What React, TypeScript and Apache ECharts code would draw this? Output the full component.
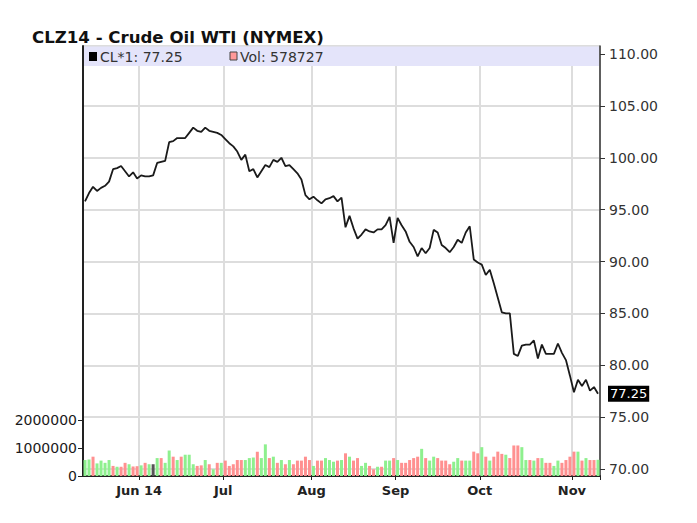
import React, { useEffect, useRef } from 'react';
import * as echarts from 'echarts';

// ---- categories: trading days (weekends and exchange holidays skipped) ----
const FIRST_DAY = '2014-05-12';
const LAST_DAY = '2014-11-11';
const HOLIDAYS = ['2014-05-26', '2014-07-04', '2014-09-01'];

function tradingDays(): string[] {
  const out: string[] = [];
  const d = new Date(FIRST_DAY + 'T00:00:00Z');
  const end = new Date(LAST_DAY + 'T00:00:00Z');
  while (d <= end) {
    const wd = d.getUTCDay();
    const s = d.toISOString().slice(0, 10);
    if (wd !== 0 && wd !== 6 && !HOLIDAYS.includes(s)) out.push(s);
    d.setUTCDate(d.getUTCDate() + 1);
  }
  return out;
}
const dates = tradingDays();

const MONTH_LABELS: Record<string, string> = {
  '06': 'Jun 14', '07': 'Jul', '08': 'Aug', '09': 'Sep', '10': 'Oct', '11': 'Nov',
};

// ---- series values ----
const closePrices = [
  95.8, 96.6, 97.2, 96.8, 97.1, 97.3, 97.7, 98.9, 99.0, 99.2,
  98.7, 98.2, 98.6, 98.0, 98.3, 98.2, 98.2, 98.3, 99.5, 99.6,
  99.7, 101.5, 101.6, 101.9, 101.9, 101.9, 102.4, 102.9, 102.6, 102.5,
  102.9, 102.6, 102.5, 102.4, 102.2, 101.8, 101.4, 101.1, 100.6, 99.8,
  100.3, 98.7, 98.9, 98.1, 98.7, 99.3, 99.1, 99.8, 99.6, 100.0,
  99.2, 99.3, 98.9, 98.5, 97.9, 96.4, 96.0, 96.25, 95.9, 95.6,
  96.0, 96.1, 96.3, 95.8, 96.15, 93.3, 94.4, 93.2, 92.2, 92.6,
  93.1, 92.9, 92.8, 93.1, 93.1, 93.5, 94.3, 91.8, 94.2, 93.5,
  92.9, 91.9, 91.4, 90.5, 91.3, 90.8, 91.3, 93.05, 92.8, 91.6,
  91.3, 90.9, 91.4, 92.1, 91.8, 92.8, 93.4, 90.2, 89.9, 89.7,
  88.7, 89.2, 87.9, 86.5, 85.1, 85.0, 85.0, 81.1, 80.9, 81.9,
  82.0, 82.0, 82.4, 80.65, 82.0, 81.1, 81.1, 81.1, 82.1, 81.2,
  80.5, 79.0, 77.4, 78.6, 78.0, 78.6, 77.55, 77.9, 77.25,
];

const volumes = [
  570000, 590000, 690000, 450000, 550000, 470000, 570000, 360000, 330000, 330000,
  470000, 420000, 340000, 350000, 380000, 470000, 420000, 420000, 640000, 640000,
  470000, 910000, 690000, 570000, 690000, 760000, 760000, 420000, 360000, 380000,
  570000, 420000, 240000, 470000, 470000, 550000, 360000, 420000, 570000, 570000,
  570000, 640000, 660000, 870000, 640000, 1130000, 640000, 690000, 470000, 570000,
  420000, 570000, 420000, 550000, 550000, 690000, 570000, 360000, 550000, 550000,
  640000, 570000, 510000, 550000, 570000, 810000, 690000, 550000, 640000, 360000,
  470000, 360000, 240000, 330000, 330000, 550000, 550000, 640000, 570000, 470000,
  470000, 570000, 640000, 690000, 970000, 640000, 550000, 690000, 640000, 550000,
  550000, 420000, 510000, 640000, 550000, 550000, 550000, 870000, 810000, 1030000,
  690000, 550000, 690000, 870000, 790000, 760000, 640000, 1090000, 1090000, 1030000,
  570000, 570000, 550000, 640000, 640000, 470000, 470000, 360000, 550000, 470000,
  570000, 690000, 870000, 870000, 550000, 640000, 570000, 570000, 578727,
];

// g = up day (green), p = down day (pink), n = unchanged (grey)
const volumeDirection =
  'ggpggggpgp' + 'pgppgpgngp' + 'ggpgpgggpp' + 'gpgpgppppp' + 'gggpggpgpg' +
  'pgpppppgpp' + 'gggpgpgppg' + 'gppgpggpgp' + 'ppppgpggpp' + 'ppggpggppg' +
  'pgpppgpppg' + 'gpgpgppggp' + 'pppgpgppg';

const lastPrice = 77.25;
const lastVolume = 578727;
const priceAxisMin = 69.33;
const priceAxisMax = 110.77;
const volumeTicks = [0, 1000000, 2000000];

const TITLE = 'CLZ14 - Crude Oil WTI (NYMEX)';

const DIR_COLORS: Record<string, string> = { g: '#8ef08e', p: '#ff9090', n: '#555555' };

function isMonthStart(i: number): boolean {
  return i > 0 && dates[i].slice(5, 7) !== dates[i - 1].slice(5, 7);
}

export default function App() {
  const ref = useRef<HTMLDivElement>(null);

  useEffect(() => {
    if (!ref.current) return;
    const chart = echarts.init(ref.current, undefined, { renderer: 'svg' });
    const FONT = 'DejaVu Sans';

    const option: any = {
      animation: false,
      backgroundColor: '#ffffff',
      textStyle: { fontFamily: FONT },
      grid: [
        { left: 83, right: 97, top: 46, bottom: 47, show: true, borderColor: '#333', borderWidth: 1, backgroundColor: 'transparent' },
        { left: 83, right: 97, top: 420, bottom: 47 },
      ],
      xAxis: [
        {
          type: 'category',
          gridIndex: 0,
          data: dates,
          boundaryGap: true,
          axisLine: { show: true, lineStyle: { color: '#222', width: 2 } },
          axisTick: { show: true, interval: (i: number) => isMonthStart(i), length: 4, lineStyle: { color: '#222', width: 1 } },
          axisLabel: {
            interval: (i: number) => isMonthStart(i),
            formatter: (v: string) => MONTH_LABELS[v.slice(5, 7)] || '',
            fontFamily: FONT,
            fontWeight: 'bold',
            fontSize: 13,
            color: '#222',
            margin: 8,
            padding: [0, 4, 0, 0],
          },
          splitLine: { show: true, interval: (i: number) => isMonthStart(i), lineStyle: { color: '#dddddd', width: 2 } },
        },
        { type: 'category', gridIndex: 1, data: dates, boundaryGap: true, show: false },
      ],
      yAxis: [
        {
          type: 'value',
          gridIndex: 0,
          position: 'right',
          min: priceAxisMin,
          max: priceAxisMax,
          splitNumber: 8,
          axisLine: { show: true, lineStyle: { color: '#333', width: 1.5 } },
          axisTick: { show: true, length: 5, lineStyle: { color: '#333' } },
          axisLabel: {
            showMinLabel: false,
            showMaxLabel: false,
            formatter: (v: number) => (Math.abs(v / 5 - Math.round(v / 5)) < 1e-6 ? v.toFixed(2) : ''),
            fontFamily: FONT,
            fontSize: 14,
            color: '#333',
            margin: 9,
          },
          splitLine: { show: true, lineStyle: { color: '#dddddd', width: 2 } },
        },
        {
          type: 'value',
          gridIndex: 0,
          position: 'left',
          min: 0,
          max: 1,
          axisLine: { show: true, lineStyle: { color: '#222', width: 2 } },
          axisTick: { show: false },
          axisLabel: { show: false },
          splitLine: { show: false },
        },
        {
          type: 'value',
          gridIndex: 1,
          position: 'left',
          min: volumeTicks[0],
          max: volumeTicks[volumeTicks.length - 1],
          interval: volumeTicks[1] - volumeTicks[0],
          axisLine: { show: true, lineStyle: { color: '#222', width: 2 } },
          axisTick: { show: true, length: 5, lineStyle: { color: '#222' } },
          axisLabel: {
            formatter: (v: number) => String(Math.round(v)),
            fontFamily: FONT,
            fontSize: 14,
            color: '#1a1a1a',
            margin: 6,
          },
          splitLine: { show: false },
        },
      ],
      series: [
        {
          name: 'Vol',
          type: 'bar',
          xAxisIndex: 1,
          yAxisIndex: 2,
          barWidth: 3,
          data: volumes.map((v, i) => ({ value: v, itemStyle: { color: DIR_COLORS[volumeDirection[i]] } })),
          z: 3,
        },
        {
          name: 'CL*1',
          type: 'line',
          xAxisIndex: 0,
          yAxisIndex: 0,
          data: closePrices,
          symbol: 'none',
          lineStyle: { color: '#1a1a1a', width: 1.8 },
          z: 5,
          markLine: {
            silent: true,
            symbol: ['none', 'none'],
            lineStyle: { color: 'rgba(0,0,0,0)', width: 0, type: 'solid' },
            label: {
              show: true,
              position: 'end',
              distance: 8,
              formatter: () => lastPrice.toFixed(2),
              backgroundColor: '#000',
              color: '#fff',
              fontFamily: FONT,
              fontSize: 13,
              padding: [2, 2, 1, 2],
            },
            data: [{ yAxis: lastPrice }],
          },
        },
      ],
      graphic: [
        {
          type: 'text',
          x: 32,
          y: 37,
          z: 20,
          style: { text: TITLE, font: `bold 16.6px "${FONT}"`, fill: '#111', verticalAlign: 'middle' },
        },
        {
          type: 'rect',
          z: 10,
          shape: { x: 84, y: 46.5, width: 515, height: 19.5 },
          style: { fill: '#e4e4fa' },
        },
        {
          type: 'rect',
          z: 11,
          shape: { x: 89, y: 52, width: 8, height: 9 },
          style: { fill: '#000' },
        },
        {
          type: 'text',
          x: 100,
          y: 57,
          z: 11,
          style: { text: 'CL*1: ' + lastPrice.toFixed(2), font: `14px "${FONT}"`, fill: '#333', verticalAlign: 'middle' },
        },
        {
          type: 'rect',
          z: 11,
          shape: { x: 230, y: 52, width: 7, height: 8 },
          style: { fill: '#ff9999', stroke: '#444', lineWidth: 1 },
        },
        {
          type: 'text',
          x: 240,
          y: 57,
          z: 11,
          style: { text: 'Vol: ' + lastVolume, font: `14px "${FONT}"`, fill: '#333', verticalAlign: 'middle' },
        },
      ],
    };

    chart.setOption(option);
    return () => chart.dispose();
  }, []);

  return (
    <div
      ref={ref}
      style={{ position: 'fixed', left: 0, top: 0, width: 697, height: 523, background: '#fff' }}
    />
  );
}
